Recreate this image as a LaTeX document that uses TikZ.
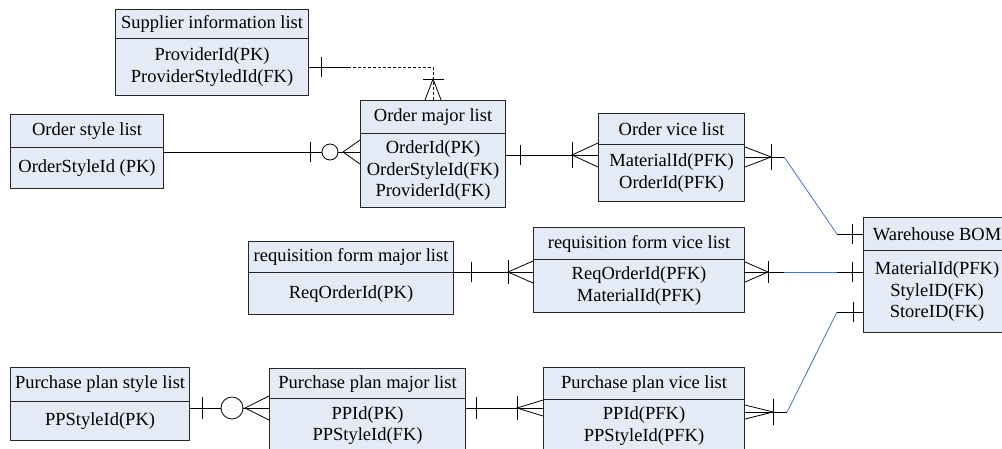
\documentclass[tikz,border=0pt]{standalone}
\usepackage{fontspec}
\setmainfont{Liberation Serif}
\usetikzlibrary{calc}
\definecolor{boxfill}{RGB}{228,235,247}
\definecolor{linkblue}{RGB}{68,114,196}

\begin{document}
\begin{tikzpicture}[x=1pt, y=-1pt, line width=0.8pt,
	every node/.style={draw=black!85, line width=1.1pt, fill=boxfill, inner sep=0pt, anchor=north west, align=center, font=\fontsize{18.5}{21.5}\selectfont},
	crowdash/.style={dash pattern=on 3pt off 2pt}]
	\useasboundingbox (0,0) rectangle (1002,448);

	\node[minimum width=193, minimum height=29] at (115, 9) (SIt) {Supplier information list};
	\node[minimum width=193, minimum height=57] at (115, 38) (SI) {ProviderId(PK)\\ProviderStyledId(FK)};
	\node[minimum width=153, minimum height=33] at (10, 114) (OSt) {Order style list};
	\node[minimum width=153, minimum height=41] at (10, 147) (OS) {OrderStyleId (PK)};
	\node[minimum width=145, minimum height=33] at (360, 100) (OMt) {Order major list};
	\node[minimum width=145, minimum height=74] at (360, 133) (OM) {OrderId(PK)\\OrderStyleId(FK)\\ProviderId(FK)};
	\node[minimum width=146, minimum height=31] at (598, 113) (OVt) {Order vice list};
	\node[minimum width=146, minimum height=57] at (598, 144) (OV) {MaterialId(PFK)\\OrderId(PFK)};
	\node[minimum width=147, minimum height=33] at (863, 217) (WBt) {Warehouse BOM};
	\node[minimum width=147, minimum height=82] at (863, 250) (WB) {MaterialId(PFK)\\StyleID(FK)\\StoreID(FK)};
	\node[minimum width=205, minimum height=31] at (248, 241) (RMt) {requisition form major list};
	\node[minimum width=205, minimum height=42] at (248, 272) (RM) {ReqOrderId(PK)};
	\node[minimum width=211, minimum height=32] at (533, 227) (RVt) {requisition form vice list};
	\node[minimum width=211, minimum height=53] at (533, 259) (RV) {ReqOrderId(PFK)\\MaterialId(PFK)};
	\node[minimum width=179, minimum height=34] at (10, 367) (PSt) {Purchase plan style list};
	\node[minimum width=179, minimum height=39] at (10, 401) (PS) {PPStyleId(PK)};
	\node[minimum width=196, minimum height=30] at (269, 368) (PMt) {Purchase plan major list};
	\node[minimum width=196, minimum height=54] at (269, 398) (PM) {PPId(PK)\\PPStyleId(FK)};
	\node[minimum width=201, minimum height=32] at (543, 367) (PVt) {Purchase plan vice list};
	\node[minimum width=201, minimum height=53] at (543, 399) (PV) {PPId(PFK)\\PPStyleId(PFK)};

	\draw (SI.east) -- ++(39,0) coordinate (s1);
	\draw[crowdash] (s1) -| (OMt.north);
	\draw ($(SI.east)+(12,-10)$) -- ++(0,20);
	\draw ($(OMt.north)+(-10,-21)$) -- ++(21,0);
	\draw ($(OMt.north)+(-8,0)$) -- ($(OMt.north)+(0,-21)$) -- ($(OMt.north)+(8,0)$);

	\coordinate (o1) at ($(OS.north east)+(0,5)$);
	\coordinate (o2) at (o1 -| OM.west);
	\draw (o1) -- (o2);
	\draw ($(o2)+(-50,-10)$) -- ++(0,20);
	\draw[fill=white] ($(o2)+(-30,0)$) circle (8pt);
	\draw ($(o2)+(0,-12)$) -- ($(o2)+(-17,0)$) -- ($(o2)+(0,12)$);

	\coordinate (m1) at ($(OM.north east)+(0,22)$);
	\coordinate (m2) at (m1 -| OV.west);
	\draw (m1) -- (m2);
	\draw ($(m1)+(14,-10)$) -- ++(0,20);
	\draw ($(m2)+(-26,-13)$) -- ++(0,26);
	\draw ($(m2)+(0,-12)$) -- ($(m2)+(-26,0)$) -- ($(m2)+(0,12)$);

	\coordinate (v1) at ($(OV.north east)+(0,13)$);
	\draw (v1) -- ++(39,0) coordinate (v2);
	\draw[linkblue] (v2) -- ($(WBt.west)+(-26,0)$) coordinate (v3);
	\draw (v3) -- (WBt.west);
	\draw ($(v1)+(0,-10)$) -- ($(v1)+(26,0)$) -- ($(v1)+(0,10)$);
	\draw ($(v1)+(26,-13)$) -- ++(0,26);
	\draw ($(WBt.west)+(-11,-10)$) -- ++(0,20);

	\coordinate (r1) at (RM.north east);
	\coordinate (r2) at (r1 -| RV.west);
	\draw (r1) -- (r2);
	\draw ($(r1)+(17,-10)$) -- ++(0,20);
	\draw ($(r2)+(-25,-12)$) -- ++(0,24);
	\draw ($(r2)+(0,-11)$) -- ($(r2)+(-25,0)$) -- ($(r2)+(0,11)$);

	\coordinate (q1) at ($(RV.north east)+(0,13)$);
	\coordinate (q4) at (q1 -| WB.west);
	\draw (q1) -- ++(39,0) coordinate (q2);
	\draw[linkblue] (q2) -- ($(q4)+(-26,0)$) coordinate (q3);
	\draw (q3) -- (q4);
	\draw ($(q1)+(0,-10)$) -- ($(q1)+(23,0)$) -- ($(q1)+(0,10)$);
	\draw ($(q1)+(23,-11)$) -- ++(0,22);
	\draw ($(q4)+(-11,-10)$) -- ++(0,20);

	\coordinate (p1) at ($(PV.north east)+(0,13)$);
	\coordinate (p4) at ($(WB.north west)+(0,62)$);
	\draw (p1) -- ++(42,0) coordinate (p2);
	\draw[linkblue] (p2) -- ($(p4)+(-26,0)$) coordinate (p3);
	\draw (p3) -- (p4);
	\draw ($(p1)+(0,-7)$) -- ($(p1)+(28,0)$) -- ($(p1)+(0,7)$);
	\draw ($(p1)+(28,-13)$) -- ++(0,26);
	\draw ($(p4)+(-10,-10)$) -- ++(0,20);

	\coordinate (k1) at ($(PS.north east)+(0,7)$);
	\coordinate (k2) at (k1 -| PM.west);
	\draw (k1) -- (k2);
	\draw ($(k1)+(12,-11)$) -- ++(0,22);
	\draw[fill=white] ($(k2)+(-37,0)$) circle (11pt);
	\draw ($(k2)+(0,-12)$) -- ($(k2)+(-24,0)$) -- ($(k2)+(0,12)$);

	\coordinate (n1) at ($(PM.north east)+(0,10)$);
	\coordinate (n2) at (n1 -| PV.west);
	\draw (n1) -- (n2);
	\draw ($(n1)+(10,-11)$) -- ++(0,22);
	\draw ($(n2)+(-26,-12)$) -- ++(0,24);
	\draw ($(n2)+(0,-8)$) -- ($(n2)+(-26,0)$) -- ($(n2)+(0,8)$);
\end{tikzpicture}
\end{document}
